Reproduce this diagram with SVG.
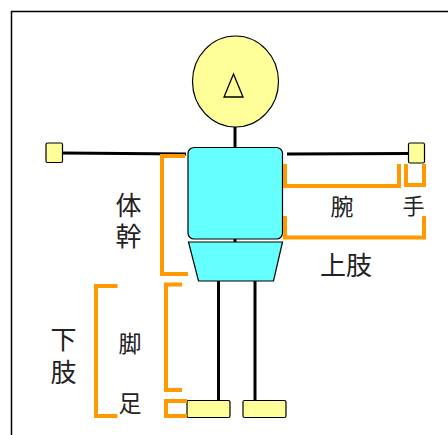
<svg xmlns="http://www.w3.org/2000/svg" width="448" height="435" viewBox="0 0 448 435">
  <style>
    .skin { fill: #ffff99; stroke: #000; stroke-width: 1.2; }
    .body { fill: #66ffff; stroke: #000; stroke-width: 1.2; }
    .bone { stroke: #000; stroke-width: 3; fill: none; }
    .brace { stroke: #ff9900; stroke-width: 4; fill: none; }
    .lbl { font-family: "Noto Sans CJK JP", "Noto Sans", sans-serif; fill: #222; text-anchor: middle; dominant-baseline: central; }
  </style>
  <rect width="448" height="435" fill="#fff"/>
  <!-- frame -->
  <path d="M11.5 435 V11.5 H448" fill="none" stroke="#000" stroke-width="1.5"/>

  <g id="connectors">
    <line class="bone" x1="235" y1="127" x2="235" y2="148"/>
    <line class="bone" x1="62" y1="153" x2="186" y2="154"/>
    <line class="bone" x1="287" y1="154" x2="409" y2="153.5"/>
    <line class="bone" x1="235" y1="239" x2="235" y2="243" stroke-width="2"/>
    <line class="bone" x1="218.5" y1="281" x2="218.5" y2="401"/>
    <line class="bone" x1="255" y1="281" x2="255" y2="401"/>
  </g>

  <g id="head">
    <ellipse class="skin" cx="235.5" cy="81.5" rx="43" ry="45.5"/>
    <polygon points="233.5,74 224,97 243,97" fill="none" stroke="#000" stroke-width="1.3"/>
  </g>
  <g id="torso">
    <rect class="body" x="188" y="147.5" width="94.5" height="91.5" rx="6"/>
  </g>
  <g id="hips">
    <polygon class="body" points="188.5,242 282.5,242 273.5,281 198.5,281"/>
  </g>
  <g id="hand-left">
    <rect class="skin" x="46" y="143" width="16.5" height="19.5" rx="1.5"/>
  </g>
  <g id="hand-right">
    <rect class="skin" x="408.5" y="143" width="16" height="20" rx="1.5"/>
  </g>
  <g id="foot-left">
    <rect class="skin" x="187" y="400.5" width="43" height="17" rx="1.5"/>
  </g>
  <g id="foot-right">
    <rect class="skin" x="243" y="400.5" width="43" height="17" rx="1.5"/>
  </g>

  <g id="braces">
    <path class="brace" d="M185 156 H162 V274 H188"/>
    <path class="brace" d="M285 164 V186 H399 V164"/>
    <path class="brace" d="M406 164 V185 H424 V164"/>
    <path class="brace" d="M285 216 V237.5 H424 V216"/>
    <path class="brace" d="M117.5 286 H96 V416 H117.5"/>
    <path class="brace" d="M182 284.5 H166 V390 H182"/>
    <path class="brace" d="M187 401 H166 V416 H187"/>
  </g>

  <g id="labels">
    <text class="lbl" x="128.5" y="203" font-size="26">体</text>
    <text class="lbl" x="128.5" y="234" font-size="26">幹</text>
    <text class="lbl" x="342" y="205" font-size="23">腕</text>
    <text class="lbl" x="413.5" y="203.5" font-size="22">手</text>
    <text class="lbl" x="346" y="263" font-size="26">上肢</text>
    <text class="lbl" x="63.5" y="337" font-size="26">下</text>
    <text class="lbl" x="63.5" y="370" font-size="26">肢</text>
    <text class="lbl" x="130" y="342" font-size="23">脚</text>
    <text class="lbl" x="130" y="402" font-size="23">足</text>
  </g>
</svg>
